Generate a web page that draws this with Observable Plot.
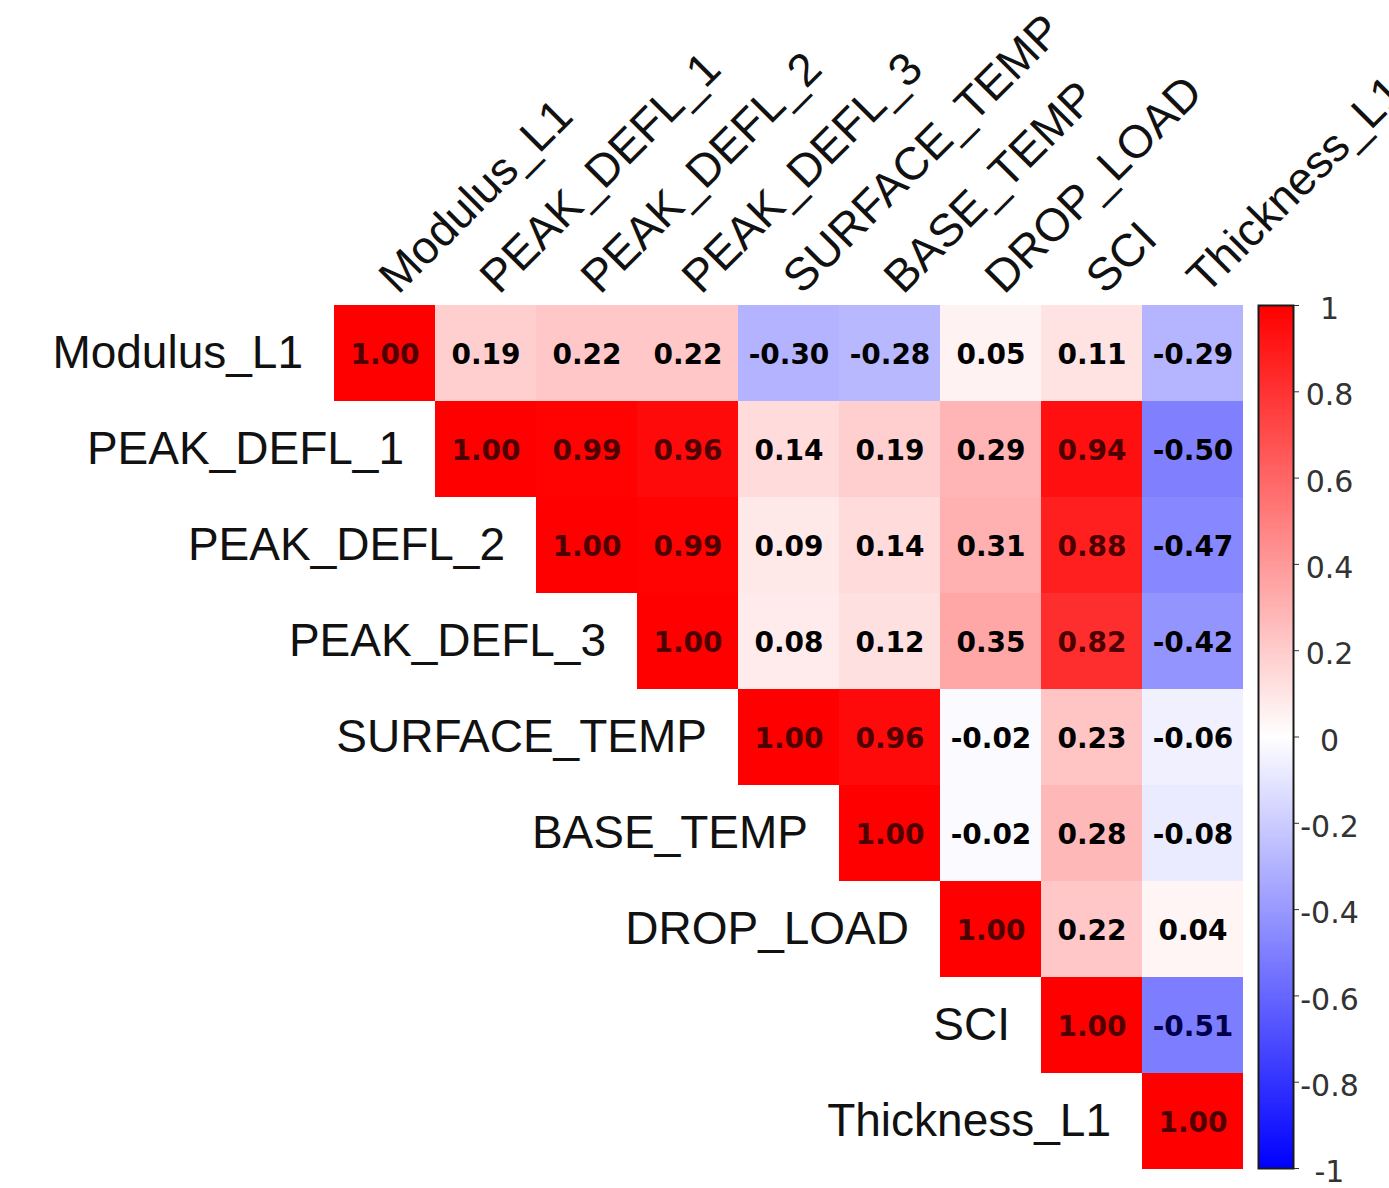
<!DOCTYPE html>
<html>
<head>
<meta charset="utf-8">
<script src="https://cdn.jsdelivr.net/npm/d3@7"></script>
<script src="https://cdn.jsdelivr.net/npm/@observablehq/plot@0.6"></script>
<style>
  html, body { margin: 0; padding: 0; background: #fff; overflow: hidden; }
  #wrap { position: relative; width: 1389px; height: 1188px; overflow: hidden; }
  #wrap svg { position: absolute; top: 0; }
</style>
</head>
<body>
<div id="wrap"></div>
<script>
// Variables (row/column order)
const variables = ["Modulus_L1", "PEAK_DEFL_1", "PEAK_DEFL_2", "PEAK_DEFL_3", "SURFACE_TEMP", "BASE_TEMP", "DROP_LOAD", "SCI", "Thickness_L1"];

// Upper-triangle correlations, row i starts at column i (diagonal)
const rowModulus   = [1.00, 0.19, 0.22, 0.22, -0.30, -0.28, 0.05, 0.11, -0.29];
const rowDefl1     = [1.00, 0.99, 0.96, 0.14, 0.19, 0.29, 0.94, -0.50];
const rowDefl2     = [1.00, 0.99, 0.09, 0.14, 0.31, 0.88, -0.47];
const rowDefl3     = [1.00, 0.08, 0.12, 0.35, 0.82, -0.42];
const rowSurface   = [1.00, 0.96, -0.02, 0.23, -0.06];
const rowBase      = [1.00, -0.02, 0.28, -0.08];
const rowDropLoad  = [1.00, 0.22, 0.04];
const rowSCI       = [1.00, -0.51];
const rowThickness = [1.00];

const legendTicks = [1, 0.8, 0.6, 0.4, 0.2, 0, -0.2, -0.4, -0.6, -0.8, -1];

const upperRows = [rowModulus, rowDefl1, rowDefl2, rowDefl3, rowSurface, rowBase, rowDropLoad, rowSCI, rowThickness];

// Build long-form table
const cells = [];
upperRows.forEach((vals, i) => {
  vals.forEach((v, k) => {
    cells.push({row: variables[i], col: variables[i + k], v});
  });
});
const diag = variables.map(v => ({name: v}));

const LABEL_FONT = "Liberation Sans, Arial, Helvetica, sans-serif";
const NUM_FONT = "DejaVu Sans, Verdana, sans-serif";
const colorScale = {type: "linear", domain: [-1, 0, 1], range: ["#0000ff", "#ffffff", "#ff0000"]};

const numOpts = {x: "col", y: "row", text: d => d.v.toFixed(2), dy: 2, fontSize: 28, fontWeight: "bold", fontFamily: NUM_FONT};

const main = Plot.plot({
  width: 1389,
  height: 1188,
  marginLeft: 333,
  marginRight: 146,
  marginTop: 304,
  marginBottom: 18,
  style: {fontFamily: LABEL_FONT, background: "white", overflow: "visible"},
  x: {type: "band", domain: variables, padding: 0, axis: null},
  y: {type: "band", domain: variables, padding: 0, axis: null},
  color: colorScale,
  marks: [
    Plot.cell(cells, {x: "col", y: "row", fill: "v", inset: 0}),
    Plot.text(cells.filter(d => Math.abs(d.v) <= 0.5), {...numOpts, fill: "#000"}),
    Plot.text(cells.filter(d => d.v > 0.5), {...numOpts, fill: "#4e0000"}),
    Plot.text(cells.filter(d => d.v < -0.5), {...numOpts, fill: "#00004a"}),
    // row labels, to the left of the diagonal cell
    Plot.text(diag, {
      x: "name", y: "name", text: "name",
      textAnchor: "end", dx: -82, fill: "#111",
      fontSize: 46, fontFamily: LABEL_FONT
    }),
    // column labels, rotated above the top row
    Plot.text(diag, {
      x: "name", y: () => variables[0], text: "name",
      textAnchor: "start", lineAnchor: "bottom", rotate: -45,
      dx: 13, dy: -58, fill: "#111",
      fontSize: 46, fontFamily: LABEL_FONT
    })
  ]
});
document.getElementById("wrap").appendChild(main);

// Colour bar legend
const legend = Plot.plot({
  width: 131,
  height: 1188,
  marginLeft: 0,
  marginRight: 96,
  marginTop: 305,
  marginBottom: 20,
  style: {fontFamily: NUM_FONT, background: "transparent", overflow: "visible"},
  x: {domain: [0, 1], axis: null},
  y: {domain: [-1, 1], axis: null},
  color: colorScale,
  marks: [
    Plot.raster({x1: 0, x2: 1, y1: -1, y2: 1, width: 2, height: 600, fill: (x, y) => y, imageRendering: "auto"}),
    Plot.frame({stroke: "#1a1a1a", strokeWidth: 2}),
    Plot.axisY({
      anchor: "right", ticks: legendTicks, tickFormat: () => "",
      tickSize: 5, stroke: "#333", label: null
    }),
    Plot.text(legendTicks, {
      x: () => 1, y: d => d, text: d => String(d),
      textAnchor: "middle", dx: 36, dy: 4,
      fontSize: 30, fill: "#333", fontFamily: NUM_FONT
    })
  ]
});
legend.style.left = "1258px";
document.getElementById("wrap").appendChild(legend);
</script>
</body>
</html>
